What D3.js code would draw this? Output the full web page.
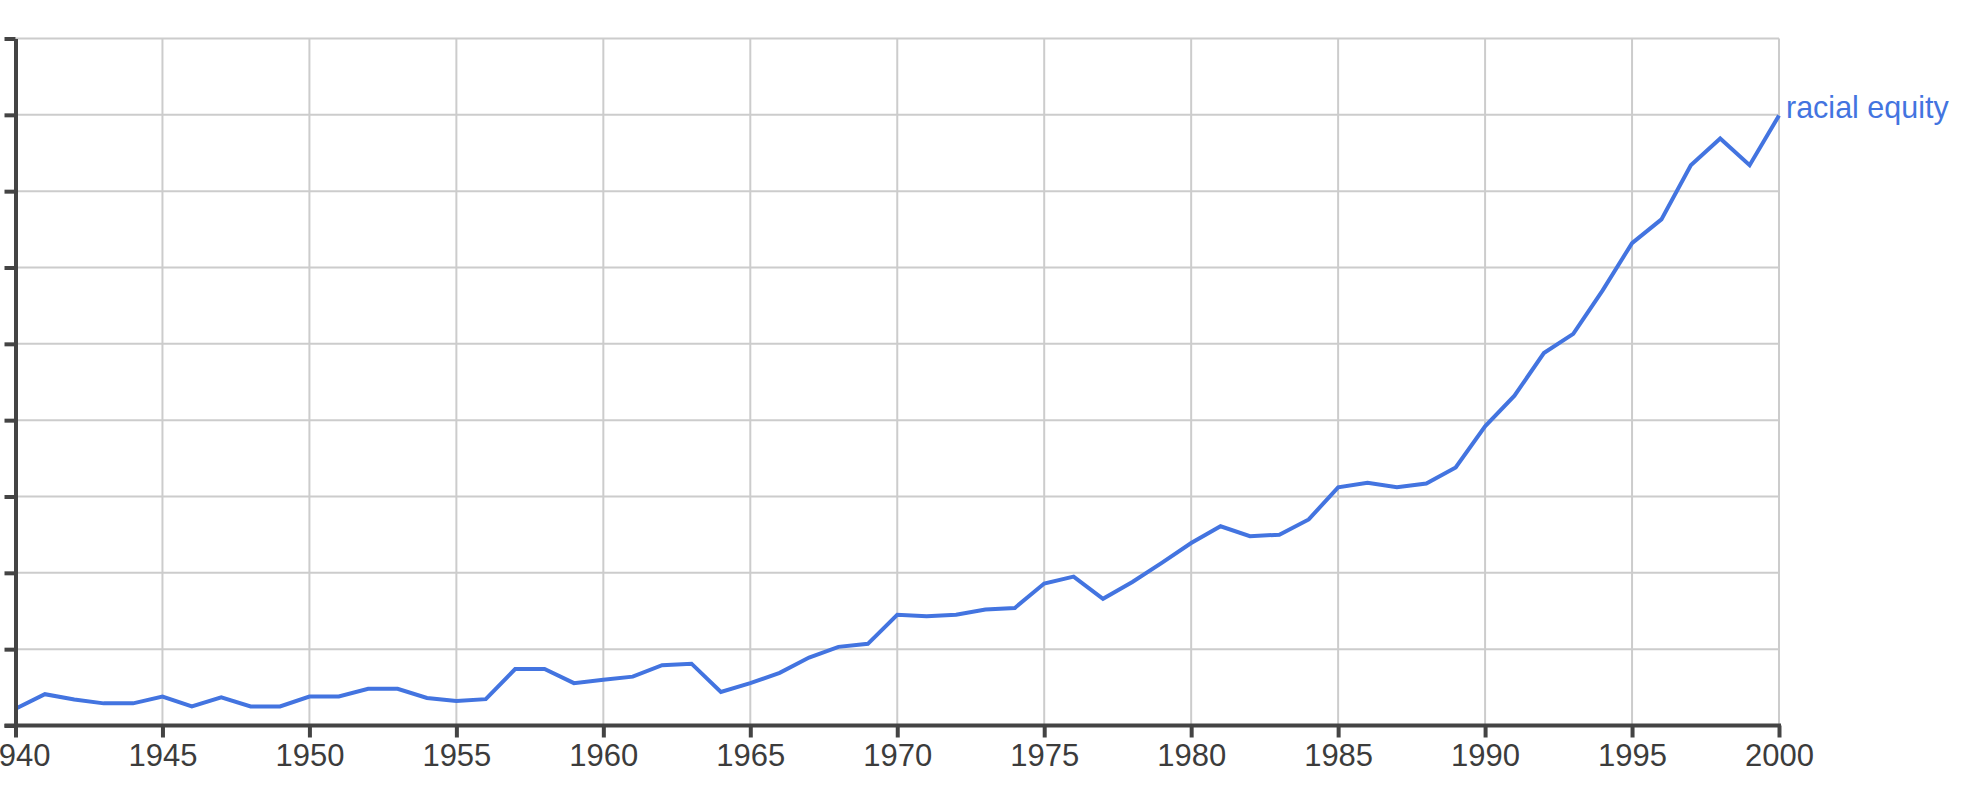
<!DOCTYPE html>
<html>
<head>
<meta charset="utf-8">
<script src="https://cdn.jsdelivr.net/npm/d3@7"></script>
<style>
  html, body { margin: 0; padding: 0; background: #fff; }
  svg { display: block; }
</style>
</head>
<body>
<svg id="chart" width="1964" height="796"></svg>
<script>
// ---- Data (values in gridline units) ----
const years = [
  1940,1941,1942,1943,1944,1945,1946,1947,1948,1949,
  1950,1951,1952,1953,1954,1955,1956,1957,1958,1959,
  1960,1961,1962,1963,1964,1965,1966,1967,1968,1969,
  1970,1971,1972,1973,1974,1975,1976,1977,1978,1979,
  1980,1981,1982,1983,1984,1985,1986,1987,1988,1989,
  1990,1991,1992,1993,1994,1995,1996,1997,1998,1999,2000
];
const racialEquity = [
  0.22,0.41,0.34,0.29,0.29,0.38,0.25,0.37,0.25,0.25,
  0.38,0.38,0.48,0.48,0.36,0.32,0.345,0.74,0.74,0.555,
  0.60,0.64,0.79,0.81,0.44,0.555,0.69,0.89,1.03,1.07,
  1.45,1.43,1.45,1.52,1.54,1.86,1.95,1.66,1.88,2.13,
  2.39,2.61,2.48,2.50,2.70,3.12,3.18,3.12,3.17,3.38,
  3.92,4.32,4.88,5.13,5.70,6.32,6.63,7.34,7.69,7.34,7.99
];
const seriesName = "racial equity";
const xTickValues = [1940,1945,1950,1955,1960,1965,1970,1975,1980,1985,1990,1995,2000];
const yTickValues = [0,1,2,3,4,5,6,7,8,9];

// ---- Layout ----
const plotLeft = 15.5, plotRight = 1779, plotTop = 38.5, plotBottom = 725.5;
const svg = d3.select("#chart");
const blue = "#4374e0", axisColor = "#444", gridColor = "#cccccc";
const font = "Arial, 'Liberation Sans', Helvetica, sans-serif";

const x = d3.scaleLinear().domain([1940, 2000]).range([plotLeft, plotRight]);
const y = d3.scaleLinear().domain([0, 9]).range([plotBottom, plotTop]);

// grid
const grid = svg.append("g");
grid.selectAll("line.v").data(xTickValues.slice(1)).join("line")
  .attr("class", "v")
  .attr("x1", d => x(d)).attr("x2", d => x(d))
  .attr("y1", plotTop).attr("y2", plotBottom)
  .attr("stroke", gridColor).attr("stroke-width", 2);
grid.selectAll("line.h").data(yTickValues.slice(1)).join("line")
  .attr("class", "h")
  .attr("x1", plotLeft).attr("x2", plotRight)
  .attr("y1", d => y(d)).attr("y2", d => y(d))
  .attr("stroke", gridColor).attr("stroke-width", 2);

// line
const line = d3.line().x((d, i) => x(years[i])).y(d => y(d));
svg.append("path").datum(racialEquity)
  .attr("d", line)
  .attr("fill", "none")
  .attr("stroke", blue)
  .attr("stroke-width", 4)
  .attr("stroke-linejoin", "miter");

// y axis
const yAxis = svg.append("g")
  .attr("transform", `translate(${plotLeft},0)`)
  .call(d3.axisLeft(y).tickValues(yTickValues).tickSize(11).tickSizeOuter(0).tickFormat(""));
yAxis.select(".domain").attr("stroke", axisColor).attr("stroke-width", 4);
yAxis.selectAll(".tick line").attr("stroke", axisColor).attr("stroke-width", 4);

// x axis
const xAxis = svg.append("g")
  .attr("transform", `translate(0,${plotBottom})`)
  .call(d3.axisBottom(x).tickValues(xTickValues).tickSize(12).tickSizeOuter(0).tickPadding(6).tickFormat(d3.format("d")));
xAxis.select(".domain").attr("stroke", axisColor).attr("stroke-width", 4)
  .attr("d", `M${plotLeft - 11},0H${plotRight + 2}`);
xAxis.selectAll(".tick line").attr("stroke", axisColor).attr("stroke-width", 4);
xAxis.selectAll(".tick text")
  .attr("fill", "#3c3c3c")
  .style("font-family", font)
  .style("font-size", "31px");

// series label
svg.append("text")
  .attr("x", x(2000) + 7)
  .attr("y", y(racialEquity[racialEquity.length - 1]) + 2.5)
  .attr("fill", blue)
  .style("font-family", font)
  .style("font-size", "30.5px")
  .text(seriesName);
</script>
</body>
</html>
